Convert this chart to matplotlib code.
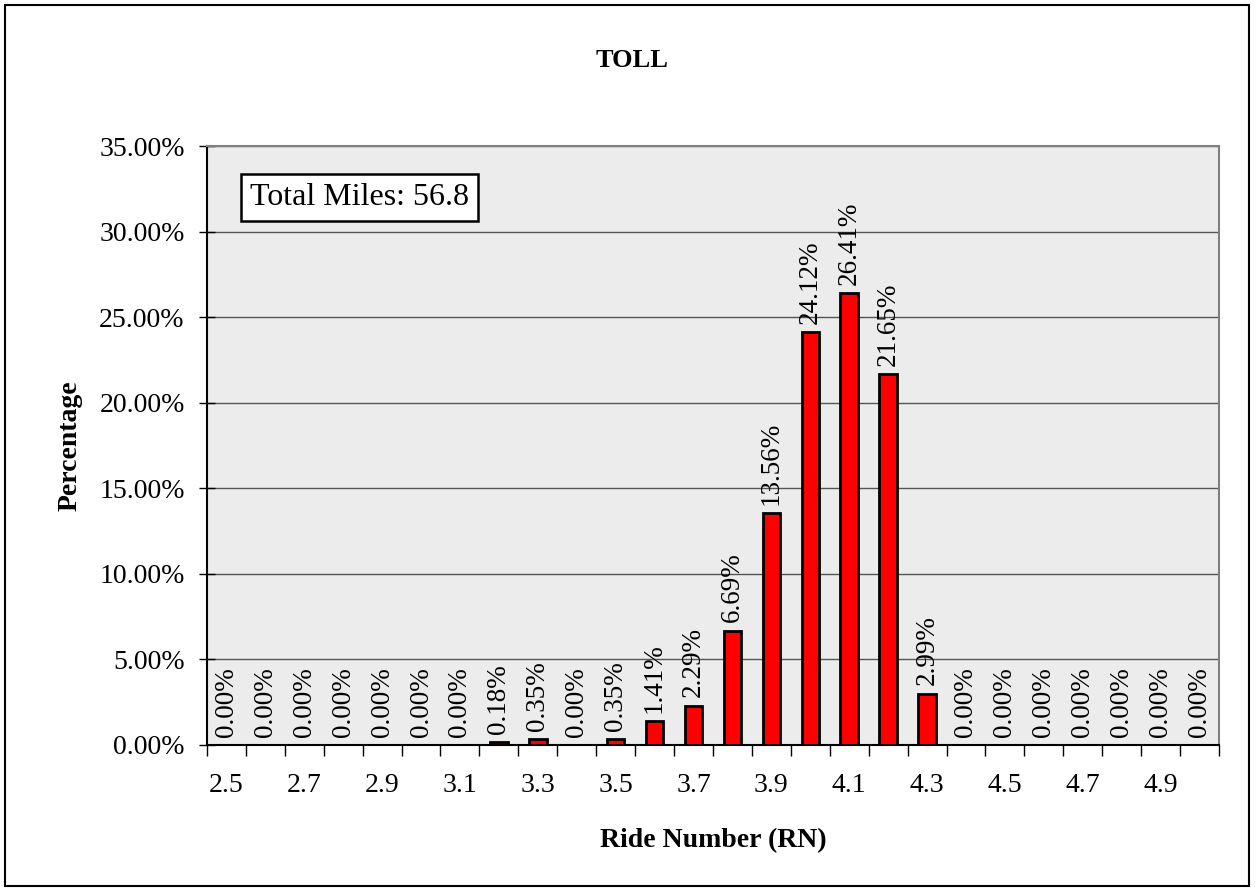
import numpy as np
import matplotlib.pyplot as plt
from matplotlib.patches import Rectangle

# data
rn = ['2.5', '2.6', '2.7', '2.8', '2.9', '3.0', '3.1', '3.2', '3.3', '3.4', '3.5', '3.6', '3.7',
      '3.8', '3.9', '4.0', '4.1', '4.2', '4.3', '4.4', '4.5', '4.6', '4.7', '4.8', '4.9', '5.0']
pct = [0.00, 0.00, 0.00, 0.00, 0.00, 0.00, 0.00, 0.18, 0.35, 0.00, 0.35, 1.41, 2.29,
       6.69, 13.56, 24.12, 26.41, 21.65, 2.99, 0.00, 0.00, 0.00, 0.00, 0.00, 0.00, 0.00]
total_miles = 56.8

plt.rcParams['font.family'] = ['Liberation Serif', 'DejaVu Serif']

fig = plt.figure(figsize=(12.55, 8.92), dpi=100)
ax = fig.add_axes([0.1649, 0.1648, 0.9713 - 0.1649, 0.8363 - 0.1648])
ax.set_facecolor('#ececec')

x = np.arange(len(rn))
ax.bar(x, pct, width=0.45, color='#ff0000', edgecolor='black', linewidth=2, zorder=3)

# data labels above the bars
for xi, v in zip(x, pct):
    ax.annotate(f'{v:.2f}%', (xi, v), xytext=(0, 6), textcoords='offset points',
                rotation=90, ha='center', va='bottom', fontsize=19.5, zorder=4)

ax.set_xlim(-0.5, len(rn) - 0.5)
ax.set_ylim(0, 35)
ax.set_yticks(np.arange(0, 36, 5))
ax.set_yticklabels([f'{t:.2f}%' for t in np.arange(0, 36, 5)], fontsize=20)
ax.yaxis.grid(True, color='#555555', linewidth=1)
ax.set_axisbelow(True)

ax.set_xticks(np.arange(len(rn) + 1) - 0.5)
ax.set_xticklabels([])
ax.set_xticks(x[::2], minor=True)
ax.set_xticklabels(rn[::2], minor=True, fontsize=20)
ax.tick_params(axis='x', which='major', length=8, width=1, direction='out')
ax.tick_params(axis='x', which='minor', length=0, pad=20)
ax.tick_params(axis='y', length=12, width=1, direction='inout', pad=10)

for s in ['top', 'right']:
    ax.spines[s].set_color('#808080')
    ax.spines[s].set_linewidth(1.5)
for s in ['left', 'bottom']:
    ax.spines[s].set_color('black')
    ax.spines[s].set_linewidth(1.5)

ax.set_xlabel('Ride Number (RN)', fontsize=20, fontweight='bold', labelpad=22)
ax.set_ylabel('Percentage', fontsize=20, fontweight='bold', labelpad=12)
fig.text(0.504, 0.932, 'TOLL', ha='center', va='center', fontsize=19, fontweight='bold')

ax.text(0.151, 0.914, f'Total Miles: {total_miles}', transform=ax.transAxes, ha='center',
        va='center', fontsize=23,
        bbox=dict(boxstyle='square,pad=0.28', facecolor='white', edgecolor='black', linewidth=1.8))

fig.patches.append(Rectangle((0.004, 0.007), 0.991, 0.987, transform=fig.transFigure,
                             fill=False, edgecolor='black', linewidth=1.5))

fig.savefig('out.png', dpi=100)
